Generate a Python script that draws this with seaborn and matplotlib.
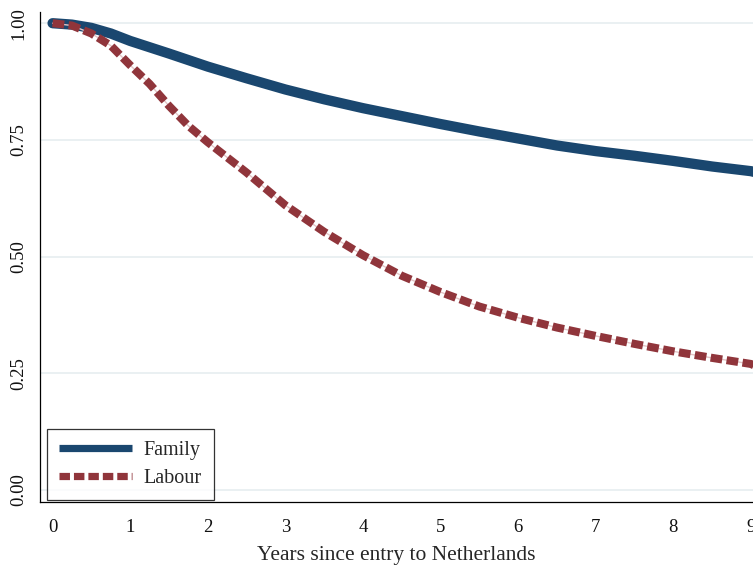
import numpy as np
import pandas as pd
import matplotlib
matplotlib.use("Agg")
import matplotlib.pyplot as plt
import seaborn as sns

# Survival curves (years since entry, share remaining)
YEARS_FAMILY = [0, 0.25, 0.5, 0.75, 1, 1.5, 2, 2.5, 3, 3.5, 4, 4.5, 5, 5.5,
                6, 6.5, 7, 7.5, 8, 8.5, 9, 9.05]
FAMILY = [1.0, 0.997, 0.99, 0.978, 0.962, 0.935, 0.907, 0.882, 0.858, 0.837,
          0.818, 0.801, 0.784, 0.768, 0.753, 0.738, 0.726, 0.716, 0.705,
          0.693, 0.683, 0.681]

YEARS_LABOUR = [0, 0.25, 0.5, 0.75, 1, 1.25, 1.5, 1.75, 2, 2.5, 3, 3.5, 4,
                4.5, 5, 5.5, 6, 6.5, 7, 7.5, 8, 8.5, 9, 9.05]
LABOUR = [1.0, 0.995, 0.978, 0.952, 0.91, 0.87, 0.823, 0.78, 0.745, 0.68,
          0.61, 0.553, 0.503, 0.459, 0.424, 0.393, 0.369, 0.348, 0.33,
          0.313, 0.297, 0.283, 0.27, 0.266]

X_TICKS = list(range(10))
Y_TICKS = [0.0, 0.25, 0.5, 0.75, 1.0]
Y_TICK_LABELS = ["0.00", "0.25", "0.50", "0.75", "1.00"]

NAVY = "#1a476f"
MAROON = "#90353b"
DASHES = [1.45, 0.55]

sns.set_style("white")
plt.rcParams["font.family"] = ["Liberation Serif", "DejaVu Serif"]

fig = plt.figure(figsize=(7.53, 5.70), dpi=100)
ax = fig.add_axes([40 / 753, 68 / 570, 713 / 753, 490 / 570])

family_df = pd.DataFrame({"years": YEARS_FAMILY, "surv": FAMILY})
labour_df = pd.DataFrame({"years": YEARS_LABOUR, "surv": LABOUR})

sns.lineplot(data=family_df, x="years", y="surv", ax=ax, color=NAVY,
             linewidth=7.4, solid_capstyle="round", label="Family", zorder=3)
# faint thread that shows through the gaps of the dashed curve
sns.lineplot(data=labour_df, x="years", y="surv", ax=ax, color="#e3c4c6",
             linewidth=1.0, label="_nolegend_", zorder=3.5)
sns.lineplot(data=labour_df, x="years", y="surv", ax=ax, color=MAROON,
             linewidth=5.8, label="Labour", zorder=4)
ax.lines[-1].set_dashes(DASHES)
ax.lines[-1].set_dash_capstyle("butt")

ax.set_xlim(-0.162, 9.026)
ax.set_ylim(-0.0257, 1.024)
ax.set_xticks(X_TICKS)
ax.set_yticks(Y_TICKS)
ax.set_yticklabels(Y_TICK_LABELS, rotation=90, va="center")
ax.tick_params(axis="both", direction="out", length=5.2, width=0.9,
               color="black", labelsize=13.5, labelcolor="#111111")
ax.tick_params(axis="y", pad=4)
ax.tick_params(axis="x", pad=7)

ax.yaxis.grid(True, color="#e8eff1", linewidth=1.3)
ax.xaxis.grid(False)
ax.set_axisbelow(True)

for side in ("top", "right"):
    ax.spines[side].set_visible(False)
for side in ("left", "bottom"):
    ax.spines[side].set_color("black")
    ax.spines[side].set_linewidth(0.9)

ax.set_xlabel("Years since entry to Netherlands", fontsize=15.5, labelpad=7)
ax.set_ylabel("")

leg = ax.legend(loc="lower left", bbox_to_anchor=(7 / 713, 2 / 490),
                borderaxespad=0, frameon=True, fancybox=False,
                edgecolor="black", handlelength=3.6, handletextpad=0.6,
                borderpad=0.6, labelspacing=0.42, fontsize=14.5)
leg.get_frame().set_linewidth(0.9)
for handle in leg.legend_handles:
    handle.set_linewidth(5.2)
leg.legend_handles[0].set_solid_capstyle("butt")
leg.legend_handles[1].set_dashes(DASHES)

fig.savefig("out.png", dpi=100)
